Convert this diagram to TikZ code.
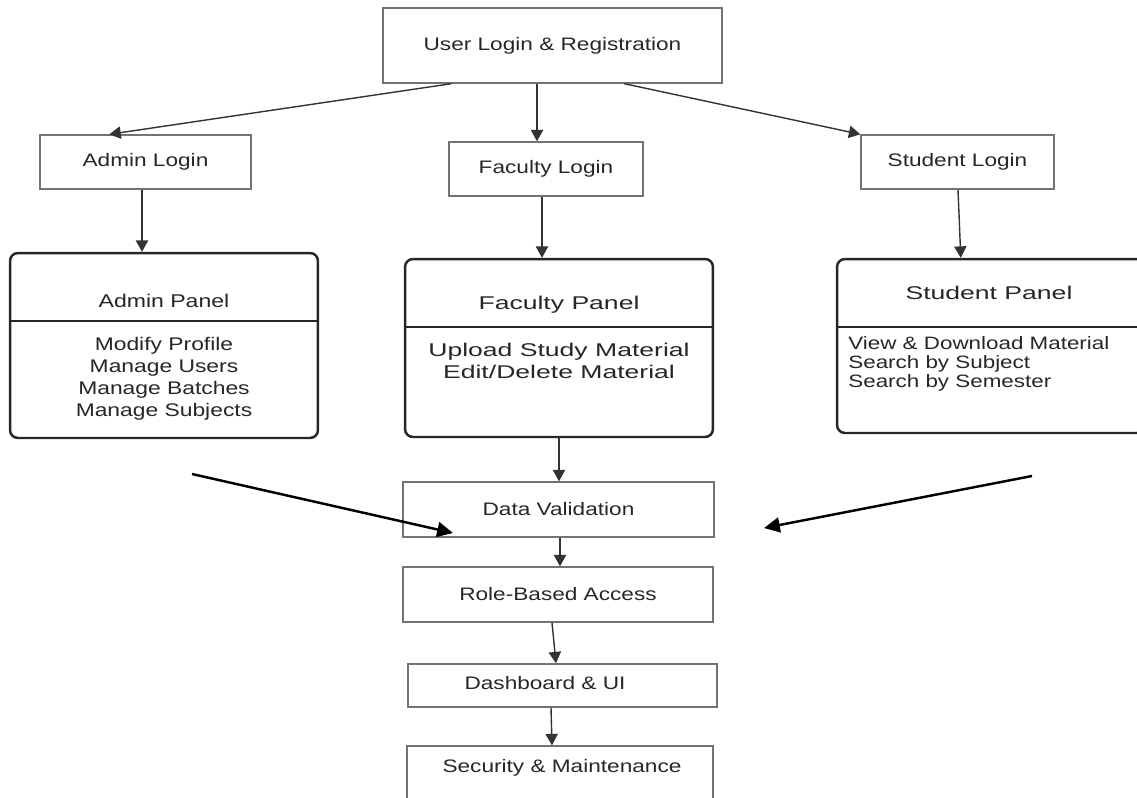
\documentclass[tikz,border=0pt]{standalone}
\usepackage{fontspec}
\setmainfont{Liberation Sans}[FakeStretch=1.25]
\newfontfamily\widesans{Liberation Sans}[FakeStretch=1.44]
\usetikzlibrary{arrows.meta,calc}

\tikzset{
  flowbox/.style={draw=black!55, line width=0.8pt, inner sep=0pt, text=black!85,
    font=\fontsize{10.3}{12}\selectfont},
  boxtext/.style={inner sep=0pt, text=black!85, font=\fontsize{10.3}{12}\selectfont},
  panelbox/.style={draw=black!85, line width=1.4pt, rounded corners=4.5pt, inner sep=0pt},
  paneltitle/.style={inner sep=0pt, text=black!85},
  panellist/.style={inner sep=0pt, text=black!85},
  divider/.style={draw=black!85, line width=1.1pt},
  conn/.style={draw=black!80, line width=0.8pt, -{Triangle[length=6.5pt,width=7pt]}},
  bigconn/.style={draw=black, line width=1.4pt, -{Triangle[length=9pt,width=8.5pt]}}
}

\begin{document}
\begin{tikzpicture}[x=0.02cm, y=-0.02cm]
        \useasboundingbox (0,0) rectangle (1137,798);
        % login level
        \node[flowbox, minimum width=6.78cm, minimum height=1.5cm] (user) at (552.5,45.5) {User Login \& Registration};
        \node[flowbox, minimum width=4.22cm, minimum height=1.08cm] (alogin) at (145.5,162) {Admin Login};
        \node[flowbox, minimum width=3.88cm, minimum height=1.08cm] (flogin) at (546,169) {Faculty Login};
        \node[flowbox, minimum width=3.86cm, minimum height=1.08cm] (slogin) at (957.5,162) {Student Login};
        \draw[conn] ($(user.south west)+(69,0)$) -- ($(alogin.north west)+(70,0)$);
        \draw[conn] ($(user.south)+(-15.5,0)$) coordinate (uf) -- (uf |- flogin.north);
        \draw[conn] ($(user.south west)+(242,0)$) -- (slogin.north west);
        % panels
        \node[panelbox, minimum width=6.16cm, minimum height=3.7cm] (apanel) at (164,345.5) {};
        \node[panelbox, minimum width=6.16cm, minimum height=3.56cm] (fpanel) at (559,348) {};
        \node[panelbox, minimum width=6.16cm, minimum height=3.48cm] (spanel) at (991,346) {};
        \draw[divider] (apanel.west |- 0,321) -- (apanel.east |- 0,321);
        \draw[divider] (fpanel.west |- 0,327) -- (fpanel.east |- 0,327);
        \draw[divider] (spanel.west |- 0,327) -- (spanel.east |- 0,327);
        \node[paneltitle, font=\fontsize{10.5}{12}\selectfont] (atitle) at (164,301) {Admin Panel};
        \node[paneltitle, font=\widesans\fontsize{10.5}{12}\selectfont] (ftitle) at (559,305) {Faculty Panel};
        \node[paneltitle, font=\widesans\fontsize{10.5}{12}\selectfont] (stitle) at (989,293) {Student Panel};
        \node[panellist, align=center, font=\fontsize{10.4}{12.6}\selectfont] (alist) at (164,379)
          {Modify Profile\\Manage Users\\Manage Batches\\Manage Subjects};
        \node[panellist, align=center, font=\widesans\fontsize{10.5}{12.3}\selectfont] (flist) at (559,361)
          {Upload Study Material\\Edit/Delete Material};
        \node[panellist, align=left, anchor=west, font=\fontsize{10.2}{11}\selectfont] (slist) at (848,364)
          {View \& Download Material\\Search by Subject\\Search by Semester};
        \draw[conn] ($(alogin.south)+(-3.5,0)$) coordinate (ap) -- (ap |- apanel.north);
        \draw[conn] ($(flogin.south)+(-4,0)$) coordinate (fp) -- (fp |- fpanel.north);
        \draw[conn] ($(slogin.south)+(0.5,0)$) -- ($(spanel.north west)+(125,0)$);
        % common flow
        \node[flowbox, minimum width=6.22cm, minimum height=1.1cm] (valid) at (558.5,509.5) {Data Validation};
        \node[flowbox, minimum width=6.2cm, minimum height=1.1cm] (role) at (558,594.5) {Role-Based Access};
        \node[flowbox, minimum width=6.18cm, minimum height=0.86cm] (dash) at (562.5,685.5) {};
        \node[boxtext] (dashtxt) at (545,683) {Dashboard \& UI};
        \node[flowbox, minimum width=6.12cm, minimum height=1.3cm] (sec) at (560,778.5) {};
        \node[boxtext] (sectxt) at (562,768) {Security \& Maintenance};
        \draw[conn] (fpanel.south) -- (fpanel.south |- valid.north);
        \draw[conn] ($(valid.south)+(1.5,0)$) coordinate (vr) -- (vr |- role.north);
        \draw[conn] ($(role.south)+(-6,0)$) -- ($(dash.north)+(-6.5,0)$);
        \draw[conn] ($(dash.south)+(-11.5,0)$) -- ($(sec.north)+(-8,0)$);
        % merging arrows
        \coordinate (lfrom) at (192,474);
        \coordinate (lto) at (453,533);
        \coordinate (rfrom) at (1032,476);
        \coordinate (rto) at (764,528);
        \draw[bigconn] (lfrom) -- (lto);
        \draw[bigconn] (rfrom) -- (rto);
\end{tikzpicture}
\end{document}
